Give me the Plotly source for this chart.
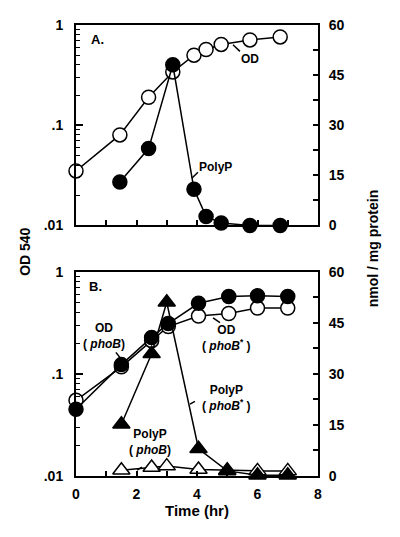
import plotly.graph_objects as go

# ---- Panel A data ----
a_time_od = [0, 1.45, 2.4, 3.2, 3.9, 4.3, 4.8, 5.75, 6.75]
a_od = [0.035, 0.080, 0.19, 0.34, 0.50, 0.57, 0.64, 0.71, 0.76]
a_time_polyp = [1.45, 2.4, 3.2, 3.9, 4.3, 4.8, 5.75, 6.75]
a_polyp = [13.0, 23.0, 48.1, 10.8, 2.7, 0.7, 0, 0]

# ---- Panel B data ----
b_time = [0, 1.5, 2.5, 3.05, 4.05, 5.05, 6.0, 7.0]
b_od_filled = [0.045, 0.123, 0.227, 0.31, 0.49, 0.57, 0.58, 0.57]
b_od_open = [0.055, 0.117, 0.211, 0.29, 0.367, 0.389, 0.44, 0.44]
b_time_polyp = [1.5, 2.5, 3.0, 4.05, 5.0, 6.0, 7.0]
b_polyp_filled = [15.2, 35.9, 51.0, 8.0, 1.5, 0.2, 0.2]
b_polyp_open = [1.7, 2.5, 2.9, 1.9, 1.7, 1.5, 1.5]

x_ticks = [0, 2, 4, 6, 8]
left_ticks = [0.01, 0.1, 1]
left_ticktext = [".01", ".1", "1"]
right_ticks = [0, 15, 30, 45, 60]

FONT = "Liberation Sans, Arial, Helvetica, sans-serif"
BLK = "black"

fig = go.Figure()

def circ(x, y, xa, ya, filled):
    return go.Scatter(x=x, y=y, xaxis=xa, yaxis=ya, mode="lines+markers",
                      cliponaxis=False, showlegend=False,
                      line=dict(color=BLK, width=1.5),
                      marker=dict(symbol="circle", size=14,
                                  color=BLK if filled else "white",
                                  line=dict(color=BLK, width=1.5)))

def tri(x, y, xa, ya, filled):
    return go.Scatter(x=x, y=y, xaxis=xa, yaxis=ya, mode="lines+markers",
                      cliponaxis=False, showlegend=False,
                      line=dict(color=BLK, width=1.5),
                      marker=dict(symbol="triangle-up", size=15,
                                  color=BLK if filled else "white",
                                  line=dict(color=BLK, width=1.5)))

# Panel A
fig.add_trace(circ(a_time_polyp, a_polyp, "x", "y2", True))
fig.add_trace(circ(a_time_od, a_od, "x", "y", False))
# Panel B
fig.add_trace(tri(b_time_polyp, b_polyp_open, "x2", "y4", False))
fig.add_trace(tri(b_time_polyp, b_polyp_filled, "x2", "y4", True))
fig.add_trace(circ(b_time, b_od_open, "x2", "y3", False))
fig.add_trace(circ(b_time, b_od_filled, "x2", "y3", True))

tickfont = dict(family=FONT, size=14, color=BLK, weight="bold")

def xax(domain_anchor, labels):
    return dict(range=[0, 8], showline=True, linecolor=BLK, linewidth=2, mirror=True,
                ticks="inside", ticklen=5, tickwidth=1.5, tickcolor=BLK,
                tickvals=x_ticks, ticktext=[str(v) for v in x_ticks],
                showticklabels=labels, tickfont=tickfont, ticklabelstandoff=4,
                minor=dict(tickvals=[1, 3, 5, 7], ticks="inside", ticklen=5,
                           tickwidth=1.5, tickcolor=BLK),
                showgrid=False, zeroline=False, anchor=domain_anchor)

minor_log = [m * d for d in [0.01, 0.1] for m in range(2, 10)]

def ylog(domain, anchor):
    return dict(type="log", range=[-2, 0], domain=domain, anchor=anchor,
                showline=True, linecolor=BLK, linewidth=2,
                ticks="inside", ticklen=7, tickwidth=1.5, tickcolor=BLK,
                tickvals=left_ticks, ticktext=left_ticktext, tickfont=tickfont,
                ticklabelstandoff=8,
                minor=dict(tickvals=minor_log, ticks="inside", ticklen=4,
                           tickwidth=1, tickcolor=BLK),
                showgrid=False, zeroline=False)

def ylin(anchor, overlay):
    return dict(range=[0, 60], side="right", overlaying=overlay, anchor=anchor,
                showline=True, linecolor=BLK, linewidth=2,
                ticks="inside", ticklen=5, tickwidth=1.5, tickcolor=BLK,
                tickvals=right_ticks, ticktext=[str(v) for v in right_ticks],
                tickfont=tickfont, ticklabelstandoff=6,
                minor=dict(tickvals=[7.5, 22.5, 37.5, 52.5], ticks="inside",
                           ticklen=5, tickwidth=1.5, tickcolor=BLK),
                showgrid=False, zeroline=False)

domA = [0.5556, 1.0]
domB = [0.0, 0.4532]

# page body has an 8px margin, so the figure is shrunk by 8px and margins adjusted
fig.update_layout(
    width=392, height=529,
    margin=dict(l=68, r=82, t=9, b=61),
    paper_bgcolor="white", plot_bgcolor="white",
    font=dict(family=FONT, color=BLK),
    xaxis=xax("y", False),
    xaxis2=xax("y3", True),
    yaxis=ylog(domA, "x"),
    yaxis2=ylin("x", "y"),
    yaxis3=ylog(domB, "x2"),
    yaxis4=ylin("x2", "y3"),
)

lab = dict(family=FONT, size=12, color=BLK, weight="bold")
anns = [
    dict(text="A.", x=0.43, y=55.6, xref="x", yref="y2", xanchor="left", font=dict(family=FONT, size=13, color=BLK, weight="bold")),
    dict(text="OD", x=5.75, y=49.7, xref="x", yref="y2", font=lab),
    dict(text="PolyP", x=4.62, y=17.6, xref="x", yref="y2", font=lab),
    dict(text="B.", x=0.36, y=55.7, xref="x2", yref="y4", xanchor="left", font=dict(family=FONT, size=13, color=BLK, weight="bold")),
    dict(text="OD<br>( <i>phoB</i>)", x=0.92, y=41.0, xref="x2", yref="y4", font=lab),
    dict(text="PolyP<br>( <i>phoB</i>)", x=2.45, y=10.1, xref="x2", yref="y4", font=lab),
    dict(text="OD<br>( <i>phoB</i><sup>*</sup> )", x=4.96, y=40.4, xref="x2", yref="y4", font=lab),
    dict(text="PolyP<br>( <i>phoB</i><sup>*</sup> )", x=4.99, y=22.8, xref="x2", yref="y4", font=lab),
    dict(text="OD 540", x=-0.252, y=0.497, xref="paper", yref="paper", textangle=-90,
         font=dict(family=FONT, size=14, color=BLK, weight="bold")),
    dict(text="nmol / mg protein", x=1.269, y=0.503, xref="paper", yref="paper", textangle=-90,
         font=dict(family=FONT, size=14, color=BLK, weight="bold")),
    dict(text="Time (hr)", x=0.5, y=-0.100, xref="paper", yref="paper",
         font=dict(family=FONT, size=15, color=BLK, weight="bold")),
]
for a in anns:
    a.setdefault("showarrow", False)
    fig.add_annotation(**a)

leaders = [
    ("x", "y2", 5.19, 54.1, 5.42, 52.1),
    ("x", "y2", 4.03, 15.9, 3.83, 14.1),
    ("x2", "y4", 1.32, 36.3, 1.52, 34.0),
    ("x2", "y4", 2.02, 1.73, 2.18, 2.6),
    ("x2", "y4", 4.53, 46.4, 4.76, 45.0),
    ("x2", "y4", 3.77, 21.1, 3.93, 21.9),
]
for xr, yr, x0, y0, x1, y1 in leaders:
    fig.add_shape(type="line", xref=xr, yref=yr, x0=x0, y0=y0, x1=x1, y1=y1,
                  line=dict(color=BLK, width=1.5))

fig.write_html("out.html")
